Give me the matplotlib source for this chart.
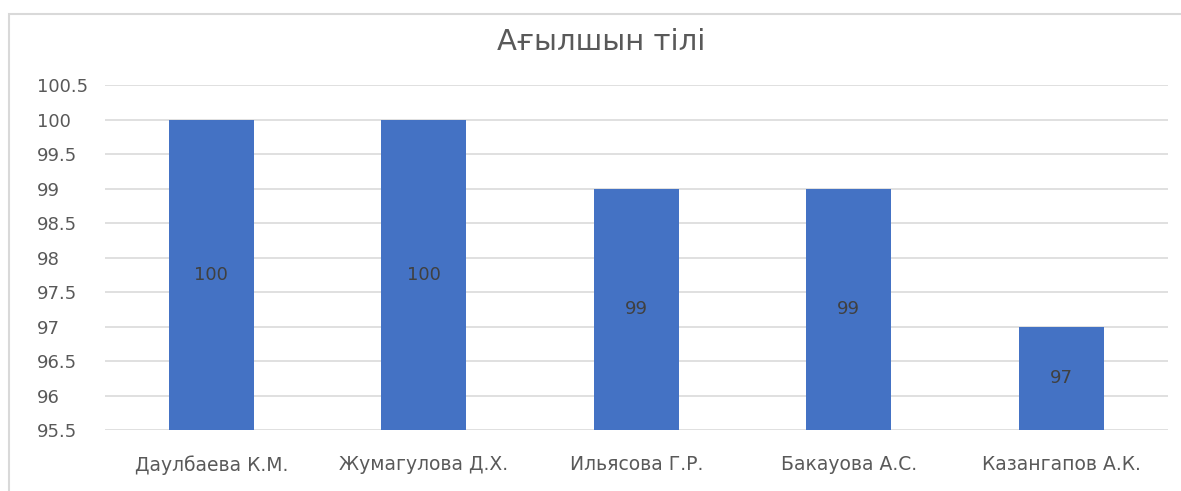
import numpy as np
import matplotlib.pyplot as plt
from matplotlib.patches import Rectangle

names = ["Даулбаева К.М.", "Жумагулова Д.Х.", "Ильясова Г.Р.", "Бакауова А.С.", "Казангапов А.К."]
scores = [100, 100, 99, 99, 97]
title = "Ағылшын тілі"
y_ticks = [95.5, 96, 96.5, 97, 97.5, 98, 98.5, 99, 99.5, 100, 100.5]

plt.rcParams["font.family"] = ["DejaVu Sans"]

fig = plt.figure(figsize=(11.81, 4.91), dpi=100)
ax = fig.add_axes([105 / 1181, 1 - 430 / 491, 1062.5 / 1181, 345 / 491])

base = y_ticks[0]
x = np.arange(len(names))
heights = [s - base for s in scores]
ax.bar(x, heights, bottom=base, width=0.4, color="#4472C4", zorder=3)

# labels sit in the middle of each bar
for xi, s in zip(x, scores):
    ax.text(xi, (s + base) / 2, str(s), ha="center", va="center",
            fontsize=13, color="#404040", zorder=4)

ax.set_xlim(-0.5, len(names) - 0.5)
ax.set_ylim(y_ticks[0], y_ticks[-1])
ax.set_yticks(y_ticks)
ax.set_yticklabels([f"{t:g}" for t in y_ticks])
ax.set_xticks(x)
ax.set_xticklabels(names)
ax.tick_params(axis="y", length=0, labelsize=13, labelcolor="#595959", pad=14)
ax.tick_params(axis="x", length=0, labelsize=13.5, labelcolor="#595959", pad=18)
for lbl in ax.get_yticklabels():
    lbl.set_horizontalalignment("left")
    lbl.set_x(-0.046)
ax.grid(axis="y", color="#E0E0E0", linewidth=1.4, zorder=0)
for sp in ax.spines.values():
    sp.set_visible(False)

fig.text(601 / 1181, 1 - 42 / 491, title, ha="center", va="center",
         fontsize=21, color="#595959")

fig.patches.append(Rectangle((9.5 / 1181, -0.01), 1.2, 1 - 14 / 491 + 0.01,
                             transform=fig.transFigure, fill=False,
                             edgecolor="#D9D9D9", linewidth=1.5))

fig.savefig("out.png", dpi=100)
